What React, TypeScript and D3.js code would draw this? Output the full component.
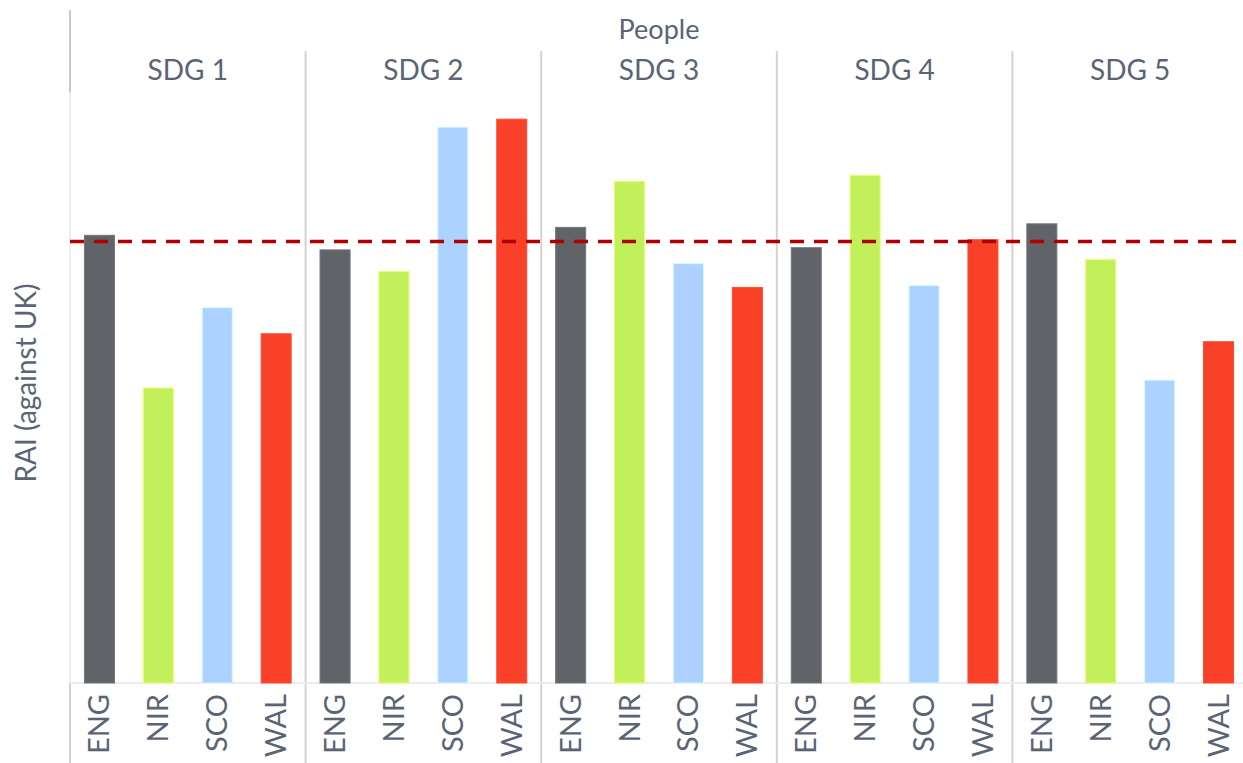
import React from 'react';
import * as d3 from 'd3';

const goals = ['SDG 1', 'SDG 2', 'SDG 3', 'SDG 4', 'SDG 5'];
const nations = ['ENG', 'NIR', 'SCO', 'WAL'];
const colours = ['#606368', '#c2f05a', '#add2ff', '#f94028'];

// RAI against UK, one value per SDG for each nation
const eng = [1.014, 0.981, 1.032, 0.986, 1.040];
const nir = [0.668, 0.932, 1.136, 1.150, 0.959];
const sco = [0.850, 1.259, 0.950, 0.900, 0.686];
const wal = [0.791, 1.277, 0.896, 1.004, 0.773];
const ukLine = 1;

const W = 1243;
const H = 763;
const font = 'Lato, "Open Sans", sans-serif';
const textColour = '#5a6474';

const App = () => {
  const left = 70;
  const right = 1248;
  const base = 683;
  const plotTop = 92;

  const series = [eng, nir, sco, wal];

  const x0 = d3.scaleBand().domain(goals).range([left, right]).padding(0);
  const x1 = d3.scaleBand()
    .domain(nations)
    .range([0, x0.bandwidth()])
    .paddingInner(0.49)
    .paddingOuter(0.245);
  const y = d3.scaleLinear().domain([0, 1.35]).range([base, base - 1.35 * 441.5]);

  const bars = goals.flatMap((g, gi) =>
    nations.map((n, ni) => ({ g, n, v: series[ni][gi], c: colours[ni] }))
  );

  return (
    <svg width={W} height={H} style={{ position: 'absolute', left: 0, top: 0, background: '#fff' }}>
      {/* left frame */}
      <line x1={left} x2={left} y1={10} y2={plotTop} stroke="#c8c8c8" strokeWidth={2} />
      <line x1={left} x2={left} y1={plotTop} y2={base} stroke="#eeeeee" strokeWidth={2} />
      <line x1={left} x2={left} y1={base} y2={H} stroke="#cfcfcf" strokeWidth={2} />

      {/* group separators */}
      {goals.slice(1).map(g => (
        <line key={g} x1={x0(g)} x2={x0(g)} y1={51} y2={H} stroke="#d2d2d2" strokeWidth={2} />
      ))}

      {/* baseline */}
      <line x1={left} x2={W} y1={base} y2={base} stroke="#ececec" strokeWidth={2} />

      {/* bars */}
      {bars.map(b => (
        <rect
          key={b.g + b.n}
          x={(x0(b.g) ?? 0) + (x1(b.n) ?? 0)}
          y={y(b.v)}
          width={x1.bandwidth()}
          height={base - y(b.v)}
          fill={b.c}
          stroke={d3.color(b.c)!.brighter(0.5).formatHex()}
          strokeWidth={1}
        />
      ))}

      {/* UK reference line */}
      <line
        x1={left}
        x2={W}
        y1={y(ukLine)}
        y2={y(ukLine)}
        stroke="#b00000"
        strokeWidth={3.5}
        strokeDasharray="14 10"
      />

      {/* headers */}
      <text x={(left + right) / 2} y={39} textAnchor="middle" fontFamily={font} fontSize={27} fill={textColour}>
        People
      </text>
      {goals.map(g => (
        <text
          key={g}
          x={(x0(g) ?? 0) + x0.bandwidth() / 2}
          y={80}
          textAnchor="middle"
          fontFamily={font}
          fontSize={28}
          fill={textColour}
        >
          {g}
        </text>
      ))}

      {/* category labels */}
      {goals.flatMap(g =>
        nations.map(n => {
          const cx = (x0(g) ?? 0) + (x1(n) ?? 0) + x1.bandwidth() / 2;
          return (
            <text
              key={g + n}
              transform={`translate(${cx + 10},${694}) rotate(-90)`}
              textAnchor="end"
              fontFamily={font}
              fontSize={29}
              fill={textColour}
            >
              {n}
            </text>
          );
        })
      )}

      {/* y axis title */}
      <text
        transform={`translate(${36},${383}) rotate(-90)`}
        textAnchor="middle"
        fontFamily={font}
        fontSize={28}
        fill={textColour}
      >
        RAI (against UK)
      </text>
    </svg>
  );
};

export default App;
